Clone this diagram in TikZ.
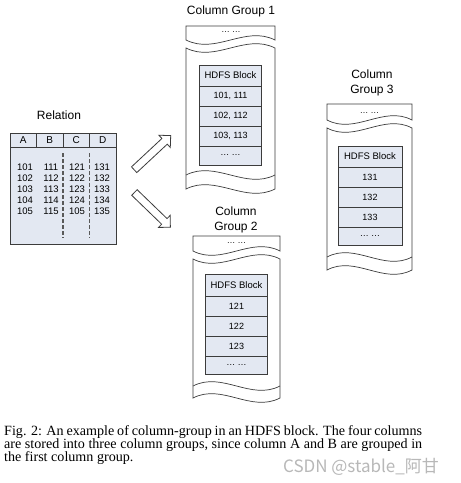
\documentclass[tikz,border=0pt]{standalone}
\usepackage{fontspec}
\setmainfont{Liberation Sans}
\newfontfamily\captionfont{Liberation Serif}
\newfontfamily\cjk{Noto Sans CJK SC}
\usetikzlibrary{arrows.meta, positioning, shapes.arrows}

\definecolor{cellfill}{HTML}{E3E8F2}
\definecolor{edge}{HTML}{3C3C3C}

% torn column-group outline: x0, x1, top, top wave, body wave, tear, bottom
\newcommand{\tornbox}[7]{%
  \draw[torn] (#1,#4) -- (#1,#3) -- (#2,#3) -- (#2,#4)
    .. controls ({#1+2*(#2-#1)/3},{#4-15}) and ({#1+(#2-#1)/3},{#4+15}) .. (#1,#4) -- cycle;
  \draw[torn] (#1,#5) .. controls ({#1+(#2-#1)/3},{#5+15}) and ({#1+2*(#2-#1)/3},{#5-15}) .. (#2,#5)
    -- (#2,#7) .. controls ({#1+2*(#2-#1)/3},{#7+15}) and ({#1+(#2-#1)/3},{#7-15}) .. (#1,#7) -- cycle;
  \draw[torn] (#1,#6) .. controls ({#1+(#2-#1)/3},{#6-15}) and ({#1+2*(#2-#1)/3},{#6+15}) .. (#2,#6);
}

\begin{document}
\begin{tikzpicture}[
        x=1pt, y=-1pt,
        title/.style={align=center, font=\fontsize{12}{15}\selectfont},
        torn/.style={draw=edge, line width=0.7pt, fill=white},
        dots/.style={font=\fontsize{8.5}{8.5}\selectfont},
        head/.style={rectangle, draw=edge, fill=cellfill, line width=0.8pt, outer sep=0pt,
                     minimum width=62pt, minimum height=21pt, anchor=north,
                     font=\fontsize{9.5}{9.5}\selectfont},
        cell/.style={head, minimum height=20pt, font=\fontsize{9}{9}\selectfont},
        hcell/.style={rectangle, draw=edge, fill=cellfill, line width=0.8pt, outer sep=0pt,
                      minimum width=26.5pt, minimum height=14pt, font=\fontsize{10}{10}\selectfont},
        num/.style={font=\fontsize{9.5}{9.5}\selectfont, inner sep=0pt},
        sep/.style={draw=black!65, line width=1.1pt, dash pattern=on 4pt off 2pt},
        hollow/.style={single arrow, draw=edge, fill=white, line width=0.8pt,
                       minimum height=50pt, minimum width=0pt, text height=0pt, text depth=0pt,
                       inner xsep=0pt, inner ysep=3.5pt, single arrow head extend=4.5pt},
        caption/.style={anchor=north west, inner sep=0pt, text width=418pt, align=justify,
                        font=\captionfont\fontsize{14.1}{13.4}\selectfont},
        stamp/.style={text=black!28, font=\cjk\fontsize{17}{17}\selectfont},
    ]
    \useasboundingbox (0,0) rectangle (461,483);
    \fill[white] (0,0) rectangle (461,483);

    % Relation table
    \node[title] (rel) at (59,115) {Relation};
    \draw[draw=edge, fill=cellfill, line width=0.8pt] (10,147) rectangle (116,244);
    \node[hcell] (colA) at (23.25,140) {A};
    \node[hcell] (colB) at (49.75,140) {B};
    \node[hcell] (colC) at (76.25,140) {C};
    \node[hcell] (colD) at (102.75,140) {D};
    \draw[sep] (63,153) -- (63,238);
    \draw[sep] (89.5,153) -- (89.5,238);
    \foreach \va/\vb/\vc/\vd [count=\i] in {101/111/121/131, 102/112/122/132,
            103/113/123/133, 104/114/124/134, 105/115/105/135} {
        \node[num] (a\i) at (25,{156+11*\i}) {\va};
        \node[num] (b\i) at (51,{156+11*\i}) {\vb};
        \node[num] (c\i) at (77,{156+11*\i}) {\vc};
        \node[num] (d\i) at (102,{156+11*\i}) {\vd};
    }

    % Split arrows
    \node[hollow, rotate=43] (split1) at (151,154) {};
    \node[hollow, rotate=-44] (split2) at (151,208.5) {};

    % Column group 1
    \node[title] (t1) at (231,11) {Column Group 1};
    \tornbox{186}{275}{26}{40}{48}{175}{189}
    \node[dots] (e1) at (231,32) {\ldots\ \ldots};
    \node[head] (h1) at (230.5,65) {HDFS Block};
    \node[cell, below=0pt of h1] (r11) {101, 111};
    \node[cell, below=0pt of r11] (r12) {102, 112};
    \node[cell, below=0pt of r12] (r13) {103, 113};
    \node[cell, below=0pt of r13, minimum height=19pt] (r14) {\ldots\ \ldots};

    % Column group 2
    \node[title] (t2) at (236,219.5) {Column\\Group 2};
    \tornbox{193}{280}{236}{251}{259}{386}{398}
    \node[dots] (e2) at (236.5,243) {\ldots\ \ldots};
    \node[head, minimum height=22pt] (h2) at (236.5,274) {HDFS Block};
    \node[cell, below=0pt of h2] (r21) {121};
    \node[cell, below=0pt of r21] (r22) {122};
    \node[cell, below=0pt of r22] (r23) {123};
    \node[cell, below=0pt of r23, minimum height=18pt] (r24) {\ldots\ \ldots};

    % Column group 3
    \node[title] (t3) at (372,82.5) {Column\\Group 3};
    \tornbox{327}{412}{104}{120}{128}{257}{270}
    \node[dots] (e3) at (369.5,113) {\ldots\ \ldots};
    \node[head, minimum width=64pt] (h3) at (370,146) {HDFS Block};
    \node[cell, minimum width=64pt, below=0pt of h3] (r31) {131};
    \node[cell, minimum width=64pt, below=0pt of r31] (r32) {132};
    \node[cell, minimum width=64pt, below=0pt of r32] (r33) {133};
    \node[cell, minimum width=64pt, below=0pt of r33, minimum height=18pt] (r34) {\ldots\ \ldots};

    % Caption and watermark
    \node[caption] (cap) at (4,425) {Fig. 2: An example of column-group in an HDFS block. The four columns are stored into three column groups, since column A and B are grouped in the first column group.};
    \node[stamp] (wm) at (361,467) {CSDN @stable\_阿甘};
\end{tikzpicture}
\end{document}
